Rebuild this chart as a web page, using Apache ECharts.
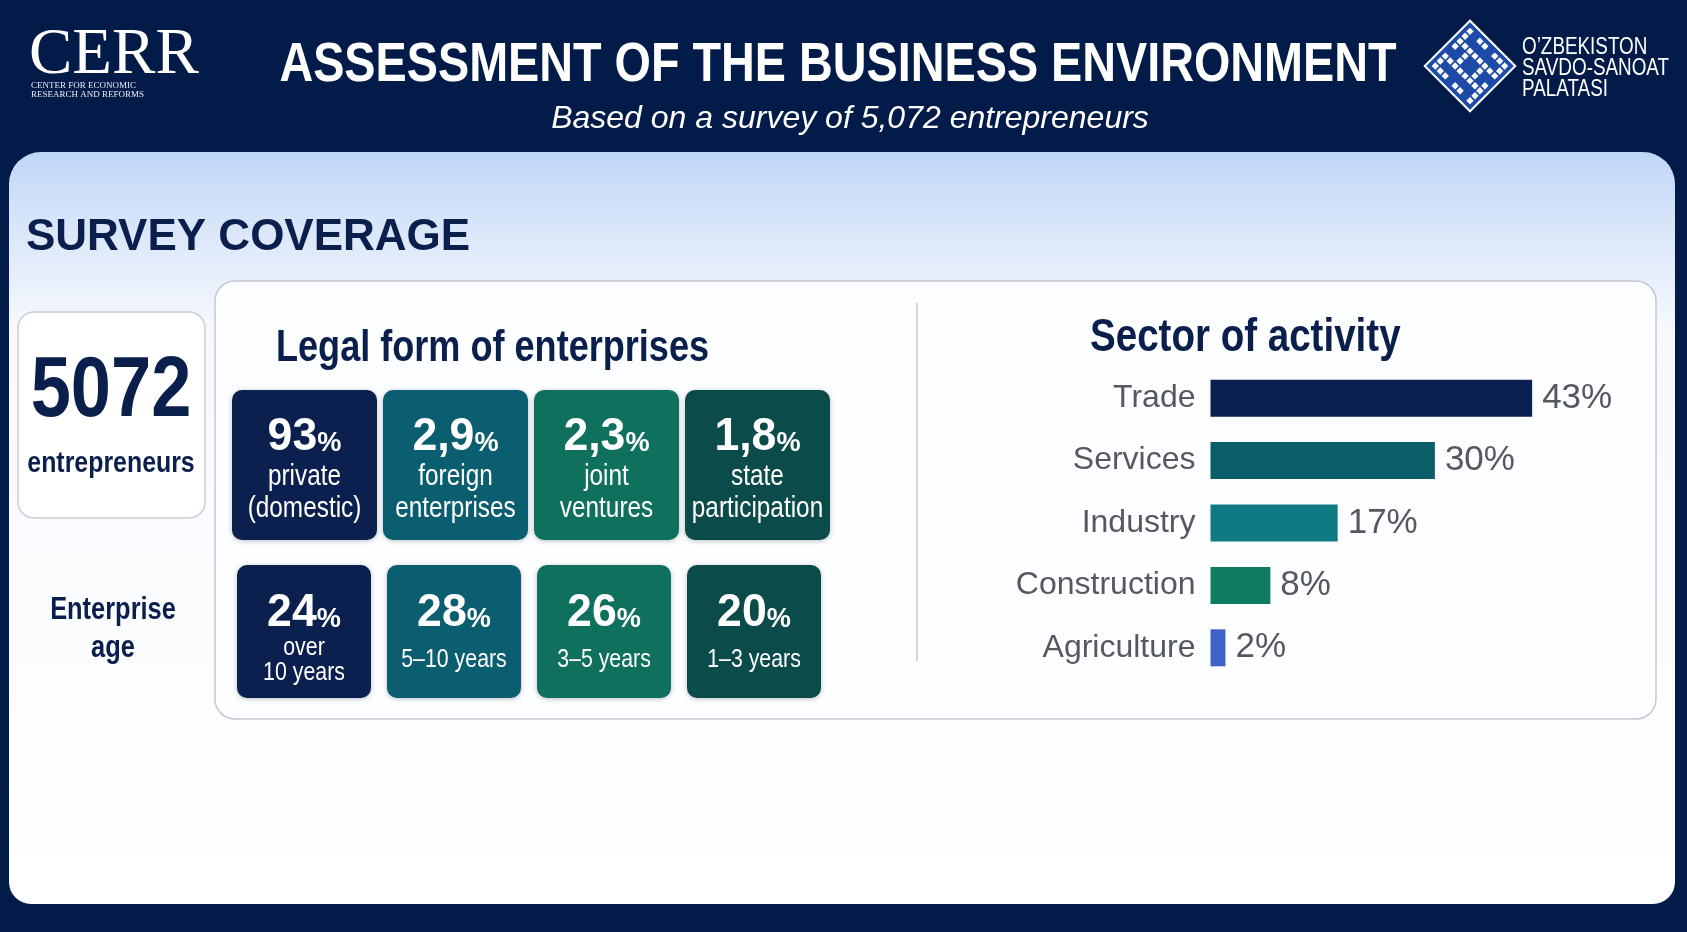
<!DOCTYPE html>
<html><head><meta charset="utf-8">
<script src="https://cdn.jsdelivr.net/npm/echarts@6/dist/echarts.min.js"></script>
<style>html,body{margin:0;padding:0;background:#031b48;}#c{width:1687px;height:932px;}</style>
</head><body><div id="c"></div>
<script>
// ---- data ----
const respondents = '5072';
const sectors = ['Trade', 'Services', 'Industry', 'Construction', 'Agriculture'];
const sectorShares = [43, 30, 17, 8, 2];
const legalShares = ['93', '2,9', '2,3', '1,8'];
const legalForms = ['private\n(domestic)', 'foreign\nenterprises', 'joint\nventures', 'state\nparticipation'];
const ageShares = ['24', '28', '26', '20'];
const ageGroups = ['over\n10 years', '5–10 years', '3–5 years', '1–3 years'];

// ---- styles ----
const barColors = ['#0b1f50', '#0b5d67', '#0f7984', '#0f7c62', '#3e63c8'];
const cardColors = ['#0c2050', '#0b5e70', '#0e705d', '#0b4b4a'];
const NAVY = '#0b1f4d';
const GRAY = '#55595f';
const SANS = '"Liberation Sans", Arial, sans-serif';
const SERIF = '"Liberation Serif", "Times New Roman", serif';
const NX = 0.82; // horizontal squeeze emulating a narrow typeface

function txt(x, y, text, size, opts) {
  opts = opts || {};
  const align = opts.align || 'center';
  return {
    type: 'text', x: x, y: y, z: opts.z || 5,
    scaleX: opts.sx === undefined ? NX : opts.sx, scaleY: 1,
    style: {
      text: text, fontSize: size, fontWeight: opts.weight || 'normal',
      fontStyle: opts.italic ? 'italic' : 'normal',
      fontFamily: opts.family || SANS, fill: opts.fill || NAVY,
      align: align, textAlign: align, verticalAlign: 'middle', textVerticalAlign: 'middle',
      lineHeight: opts.lineHeight || undefined
    }
  };
}

const g = [];
// page background
g.push({ type: 'rect', z: 0, shape: { x: 0, y: 0, width: 1687, height: 932 }, style: { fill: '#031b48' } });
// main panel
g.push({ type: 'rect', z: 1, shape: { x: 9, y: 152, width: 1666, height: 752, r: [32, 32, 22, 22] },
  style: { fill: { type: 'linear', x: 0, y: 0, x2: 0, y2: 1, colorStops: [
    { offset: 0, color: '#c0d6f7' }, { offset: 0.1, color: '#d9e6f9' },
    { offset: 0.24, color: '#f7f9fd' }, { offset: 1, color: '#ffffff' }] } } });
// inner box
g.push({ type: 'rect', z: 2, shape: { x: 215, y: 281, width: 1441, height: 438, r: 20 },
  style: { fill: '#fdfeff', stroke: '#c4c8d0', lineWidth: 1.5 } });
// left box
g.push({ type: 'rect', z: 2, shape: { x: 18, y: 312, width: 187, height: 206, r: 16 },
  style: { fill: '#ffffff', stroke: '#c9cdd4', lineWidth: 1.5 } });
// divider
g.push({ type: 'line', z: 3, shape: { x1: 917, y1: 303, x2: 917, y2: 661 }, style: { stroke: '#b5b9c0', lineWidth: 1.2 } });

// header texts
g.push(txt(838, 66, 'ASSESSMENT OF THE BUSINESS ENVIRONMENT', 56, { weight: 'bold', fill: '#ffffff', sx: 0.835 }));
g.push(txt(850, 119, 'Based on a survey of 5,072 entrepreneurs', 32, { italic: true, fill: '#ffffff', sx: 1 }));
// CERR logo
g.push(txt(29, 56, 'CERR', 65, { align: 'left', family: SERIF, fill: '#ffffff', sx: 1 }));
g.push(txt(31, 86, 'CENTER FOR ECONOMIC', 9, { align: 'left', family: SERIF, fill: '#e8ecf4', sx: 1 }));
g.push(txt(31, 95, 'RESEARCH AND REFORMS', 9, { align: 'left', family: SERIF, fill: '#e8ecf4', sx: 1 }));
// chamber logo
const P = ['11101111', '10100100', '10111101', '00100101', '10100100', '10111101', '00100101', '11110111'];
const cells = [];
const side = 56, cell = side / 8;
cells.push({ type: 'rect', shape: { x: -side / 2 - 4, y: -side / 2 - 4, width: side + 8, height: side + 8 },
  style: { fill: '#1d4aa6', stroke: '#ffffff', lineWidth: 2 } });
P.forEach(function (row, r) {
  row.split('').forEach(function (ch, c) {
    if (ch === '1') cells.push({ type: 'rect', shape: { x: -side / 2 + c * cell + 0.9, y: -side / 2 + r * cell + 0.9, width: cell - 1.8, height: cell - 1.8 },
      style: { fill: '#ffffff' } });
  });
});
g.push({ type: 'group', x: 1470, y: 66, rotation: Math.PI / 4, z: 5, children: cells });
g.push(txt(1522, 48, 'O’ZBEKISTON', 23, { align: 'left', fill: '#ffffff' }));
g.push(txt(1522, 69, 'SAVDO-SANOAT', 23, { align: 'left', fill: '#ffffff' }));
g.push(txt(1522, 90, 'PALATASI', 23, { align: 'left', fill: '#ffffff' }));

// section texts
g.push(txt(26, 238, 'SURVEY COVERAGE', 44, { align: 'left', weight: 'bold', sx: 1 }));
g.push(txt(111, 392, respondents, 86, { weight: 'bold', sx: 0.84 }));
g.push(txt(111, 464, 'entrepreneurs', 30, { weight: 'bold', sx: 0.83 }));
g.push(txt(113, 610, 'Enterprise', 31, { weight: 'bold' }));
g.push(txt(113, 648, 'age', 31, { weight: 'bold' }));
g.push(txt(276, 349, 'Legal form of enterprises', 44, { align: 'left', weight: 'bold' }));
g.push(txt(1090, 338, 'Sector of activity', 47, { align: 'left', weight: 'bold' }));

function valueText(cx, cy, val) {
  return {
    type: 'text', x: cx, y: cy, z: 6, scaleX: 0.97,
    style: {
      text: '{v|' + val + '}{p|%}', align: 'center', textAlign: 'center', verticalAlign: 'middle', textVerticalAlign: 'middle',
      rich: {
        v: { fontSize: 46, fontWeight: 'bold', fontFamily: SANS, fill: '#ffffff', lineHeight: 48, verticalAlign: 'bottom' },
        p: { fontSize: 28, fontWeight: 'bold', fontFamily: SANS, fill: '#ffffff', lineHeight: 30, verticalAlign: 'bottom', padding: [0, 0, 3, 0] }
      }
    }
  };
}
function card(x, y, w, h, color) {
  return { type: 'rect', z: 4, shape: { x: x, y: y, width: w, height: h, r: 10 },
    style: { fill: color, shadowBlur: 5, shadowColor: 'rgba(0,0,0,0.25)', shadowOffsetY: 1 } };
}
legalShares.forEach(function (v, i) {
  const x = 232 + i * 151, w = 145, cx = x + w / 2;
  g.push(card(x, 390, w, 150, cardColors[i]));
  g.push(valueText(cx, 436, v));
  g.push(txt(cx, 493, legalForms[i], 29, { fill: '#ffffff', lineHeight: 32, z: 6, sx: 0.84 }));
});
ageShares.forEach(function (v, i) {
  const x = 237 + i * 150, w = 134, cx = x + w / 2;
  g.push(card(x, 565, w, 133, cardColors[i]));
  g.push(valueText(cx, 612, v));
  g.push(txt(cx, 660, ageGroups[i], 26, { fill: '#ffffff', lineHeight: 25, z: 6, sx: 0.82 }));
});

const chart = echarts.init(document.getElementById('c'));
chart.setOption({
  animation: false,
  graphic: { elements: g },
  grid: { left: 1210.5, top: 367, width: 374, height: 312 },
  xAxis: { type: 'value', min: 0, max: 50, show: false },
  yAxis: {
    type: 'category', data: sectors, inverse: true, z: 10,
    axisLine: { show: false }, axisTick: { show: false }, splitLine: { show: false },
    axisLabel: { fontSize: 32, color: GRAY, fontFamily: SANS, margin: 15 }
  },
  series: [{
    type: 'bar', z: 10, barWidth: 37, silent: true,
    data: sectorShares.map(function (v, i) { return { value: v, itemStyle: { color: barColors[i] } }; }),
    label: { show: true, position: 'right', distance: 10, formatter: '{c}%', fontSize: 35, color: GRAY, fontFamily: SANS }
  }]
});
</script></body></html>
